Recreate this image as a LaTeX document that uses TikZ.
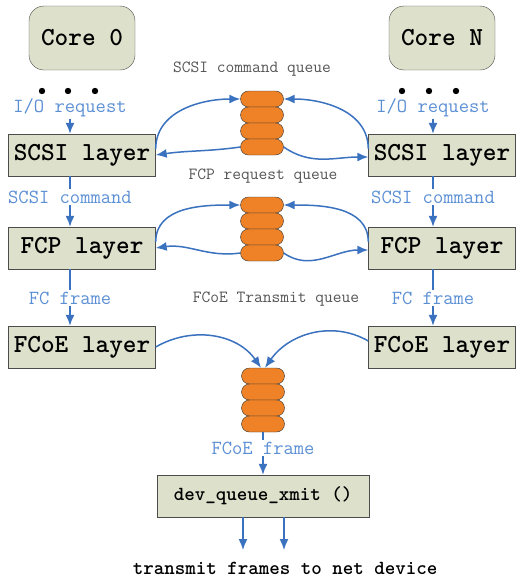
\documentclass[tikz,border=0pt]{standalone}
\usepackage{fontspec}
\usetikzlibrary{arrows.meta}
\definecolor{boxfill}{HTML}{DDE1CB}
\definecolor{qorange}{HTML}{EF8227}
\definecolor{flowblue}{HTML}{3B72BF}
\definecolor{noteblue}{HTML}{5B8FD4}
\definecolor{qgray}{HTML}{555555}
\begin{document}
\begin{tikzpicture} [
                x=1pt, y=1pt,
                core/.style={draw=black!70,fill=boxfill,rounded corners=15pt,minimum width=106pt,minimum height=64pt,inner sep=0pt,
                    font=\fontsize{26}{28}\selectfont\ttfamily\bfseries},
                layer/.style={draw=black!70,fill=boxfill,minimum width=147pt,minimum height=42pt,inner sep=0pt,
                    font=\fontsize{26}{28}\selectfont\ttfamily\bfseries},
                pill/.style={draw=black!80,fill=qorange,rounded corners=8pt,minimum width=43pt,minimum height=16pt,inner sep=0pt},
                note/.style={text=noteblue,inner sep=1.5pt,font=\fontsize{20}{22}\selectfont\ttfamily},
                qlabel/.style={text=qgray,inner sep=1pt,font=\fontsize{17}{19}\selectfont\ttfamily},
                link/.style={draw=flowblue,line width=1.5pt},
                flow/.style={link,-{Latex[length=11pt,width=9pt]}},
            ]
            \useasboundingbox (0,0) rectangle (515,-581);
            % First the cores and the layers
            \node[core] (core0) at (82,-38) {Core 0};
            \node[core] (coreN) at (442,-38) {Core N};
            \foreach \x in {42,68,95,402,429,456}
                \fill (\x,-91) circle (3.2pt);
            \foreach \pos/\name/\txt in {
                    {(82,-155)/scsiL/SCSI layer}, {(442,-155)/scsiR/SCSI layer},
                    {(82,-248)/fcpL/FCP layer}, {(442,-248)/fcpR/FCP layer},
                    {(82,-347)/fcoeL/FCoE layer}, {(442,-347)/fcoeR/FCoE layer}}
                \node[layer] (\name) at \pos {\txt};
            \node[layer,minimum width=212pt,font=\fontsize{20}{22}\selectfont\ttfamily\bfseries] (xmit) at (263,-496) {dev\_queue\_xmit ()};
            % the three queues
            \foreach \q/\x/\y in {s/262/99, f/262/205, t/263/376}
                \foreach \i in {1,...,4}
                    \node[pill] (\q\i) at (\x,{-\y-16*(\i-1)}) {};
            \node[qlabel] (sqlab) at (252,-69) {SCSI command queue};
            \node[qlabel] (fqlab) at (263,-176) {FCP request queue};
            \node[qlabel] (tqlab) at (276,-299) {FCoE Transmit queue};
            % labels on the arrows
            \node[note] (ioL) at (70,-108) {I/O request};
            \node[note] (ioR) at (433,-108) {I/O request};
            \foreach \pos/\name/\txt in {
                    {(70,-197)/cmdL/SCSI command}, {(433,-197)/cmdR/SCSI command},
                    {(70,-298)/fcL/FC frame}, {(433,-298)/fcR/FC frame},
                    {(263,-448)/frame/FCoE frame}}
                \node[note] (\name) at \pos {\txt};
            \node[font=\fontsize{20}{22}\selectfont\ttfamily\bfseries] (tx) at (285,-568) {transmit frames to net device};
            % down the stacks
            \foreach \side in {L,R} {
                \draw[flow] (io\side) -- (io\side |- scsi\side.north);
                \draw[link] (scsi\side.south -| cmd\side) -- (cmd\side);
                \draw[flow] (cmd\side) -- (cmd\side |- fcp\side.north);
                \draw[link] (fcp\side.south -| fc\side) -- (fc\side);
                \draw[flow] (fc\side) -- (fc\side |- fcoe\side.north);
            }
            \draw[link] (t4.south) -- (frame);
            \draw[flow] (frame) -- (frame |- xmit.north);
            \coordinate (outA) at (243,-550);
            \coordinate (outB) at (284,-550);
            \foreach \out in {outA, outB}
                \draw[flow] (xmit.south -| \out) -- (\out);
            % in and out of the queues
            \foreach \layer/\q in {scsi/s, fcp/f} {
                \draw[flow] ([yshift=6pt]\layer L.east) to[out=90,in=180] (\q1.west);
                \draw[flow] (\q4.west) to[out=188,in=8] (\layer L.east);
                \draw[flow] ([yshift=6pt]\layer R.west) to[out=90,in=0] (\q1.east);
                \draw[flow] (\q4.east) to[out=-35,in=180] ([yshift=-2pt]\layer R.west);
            }
            \draw[flow] (fcoeL.east) to[out=30,in=125] ([xshift=-2pt]t1.north);
            \draw[flow] ([yshift=6pt]fcoeR.west) to[out=150,in=55] ([xshift=2pt]t1.north);
        \end{tikzpicture}
\end{document}
